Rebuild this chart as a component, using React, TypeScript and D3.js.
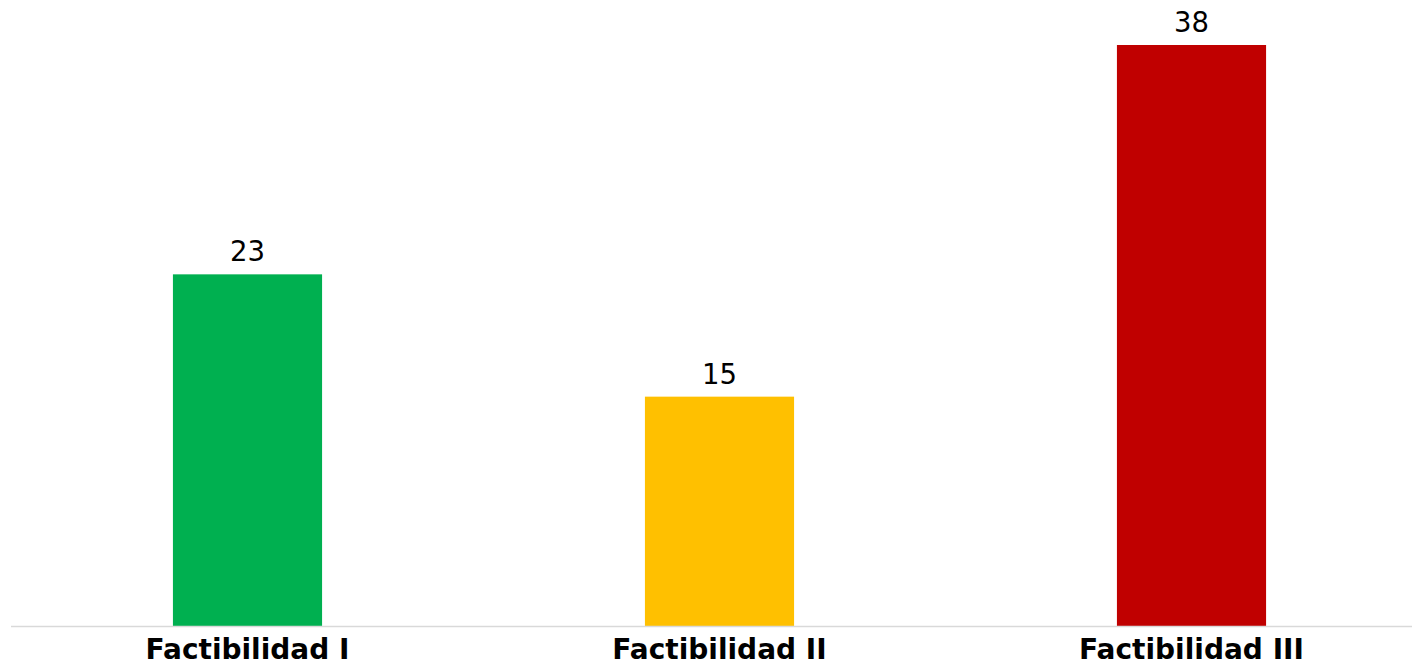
import React from "react";
import * as d3 from "d3";

const categories = ["Factibilidad I", "Factibilidad II", "Factibilidad III"];
const values = [23, 15, 38];
const colors = ["#00B050", "#FFC000", "#C00000"];

const W = 1412;
const H = 663;

export default function App() {
  const x = d3
    .scaleBand<string>()
    .domain(categories)
    .range([11.5, 1427.5])
    .paddingInner(0.684)
    .paddingOuter(0.342);
  const y = d3.scaleLinear().domain([0, 38]).range([626, 45]);
  const font = "'DejaVu Sans', sans-serif";
  return (
    <svg
      width={W}
      height={H}
      style={{ position: "absolute", left: 0, top: 0, display: "block", background: "#fff" }}
    >
      {categories.map((c, i) => (
        <g key={c}>
          <rect
            x={x(c)}
            y={y(values[i])}
            width={x.bandwidth()}
            height={y(0) - y(values[i])}
            fill={colors[i]}
          />
          <text
            x={(x(c) as number) + x.bandwidth() / 2}
            y={y(values[i]) - 13}
            textAnchor="middle"
            fontFamily={font}
            fontSize={27.5}
            fill="#000"
          >
            {values[i]}
          </text>
          <text
            x={(x(c) as number) + x.bandwidth() / 2}
            y={659}
            textAnchor="middle"
            fontFamily={font}
            fontWeight="bold"
            fontSize={28}
            fill="#000"
          >
            {c}
          </text>
        </g>
      ))}
      <line x1={11} x2={1412} y1={626.5} y2={626.5} stroke="#d9d9d9" strokeWidth={1.5} />
    </svg>
  );
}
